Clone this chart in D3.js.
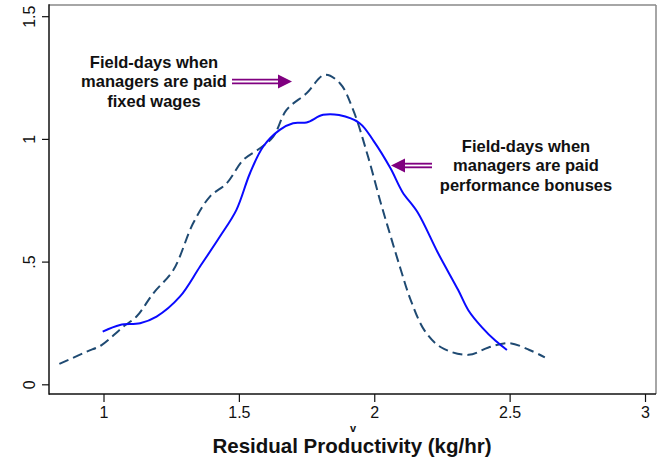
<!DOCTYPE html>
<html><head><meta charset="utf-8">
<script src="https://cdn.jsdelivr.net/npm/d3@7"></script>
<style>html,body{margin:0;padding:0;background:#fff;}svg{display:block;}</style>
</head><body>
<svg id="c" width="663" height="461"></svg>
<script>
// Kernel density: field-days when managers are paid fixed wages (dashed)
const xFixed = [0.837,0.938,0.993,1.073,1.122,1.184,1.258,1.331,1.393,1.455,1.516,1.578,1.627,1.676,1.750,1.817,1.873,1.922,1.977,2.023,2.060,2.098,2.135,2.186,2.248,2.348,2.422,2.498,2.573,2.630];
const yFixed = [0.083,0.133,0.160,0.235,0.276,0.371,0.466,0.656,0.765,0.819,0.914,0.962,1.009,1.118,1.186,1.261,1.227,1.118,0.928,0.743,0.605,0.467,0.342,0.219,0.150,0.120,0.150,0.168,0.140,0.110];
// Field-days when managers are paid performance bonuses (solid)
const xBonus = [0.997,1.061,1.135,1.196,1.282,1.356,1.430,1.491,1.541,1.590,1.651,1.700,1.750,1.811,1.870,1.946,1.998,2.060,2.104,2.160,2.235,2.310,2.348,2.398,2.448,2.490];
const yBonus = [0.215,0.242,0.249,0.276,0.357,0.479,0.602,0.711,0.860,0.969,1.037,1.064,1.067,1.098,1.097,1.064,0.991,0.880,0.784,0.701,0.536,0.384,0.301,0.232,0.177,0.140];
const xTicks = [1,1.5,2,2.5,3];
const xTickLabels = ["1","1.5","2","2.5","3"];
const yTicks = [0,0.5,1,1.5];
const yTickLabels = ["0",".5","1","1.5"];
const xTitle = "Residual Productivity (kg/hr)";
const noteFixed = ["Field-days when","managers are paid","fixed wages"];
const noteBonus = ["Field-days when","managers are paid","performance bonuses"];

const svg = d3.select("#c");
const L=49, R=656, T=5, B=394;
const x = d3.scaleLinear().domain([0.7987,3.0406]).range([L,R]);
const y = d3.scaleLinear().domain([-0.0395,1.5456]).range([B,T]);
const font = "'Liberation Sans', Arial, Helvetica, sans-serif";

// frame
svg.append("line").attr("x1",L).attr("x2",R).attr("y1",T).attr("y2",T).attr("stroke","#888").attr("stroke-width",1.5);
svg.append("line").attr("x1",R).attr("x2",R).attr("y1",T).attr("y2",B).attr("stroke","#888").attr("stroke-width",1.5);
svg.append("line").attr("x1",L).attr("x2",L).attr("y1",T-0.75).attr("y2",B+0.75).attr("stroke","#111").attr("stroke-width",1.5);
svg.append("line").attr("x1",L).attr("x2",R).attr("y1",B).attr("y2",B).attr("stroke","#111").attr("stroke-width",1.5);

// x axis
const gx = svg.append("g").attr("transform",`translate(0,${B})`)
  .call(d3.axisBottom(x).tickValues(xTicks).tickSize(8).tickPadding(5)
    .tickFormat((d,i)=>xTickLabels[i]));
gx.select(".domain").remove();
gx.selectAll("line").attr("stroke","#111").attr("stroke-width",1.2);
gx.selectAll("text").attr("font-family",font).attr("font-size",16).attr("fill","#111");

// y axis
const gy = svg.append("g").attr("transform",`translate(${L},0)`)
  .call(d3.axisLeft(y).tickValues(yTicks).tickSize(7).tickFormat((d,i)=>yTickLabels[i]));
gy.select(".domain").remove();
gy.selectAll("line").attr("stroke","#111").attr("stroke-width",1.2);
gy.selectAll("text").attr("font-family",font).attr("font-size",16).attr("fill","#111")
  .attr("x",null).attr("dy",null).attr("text-anchor","middle")
  .attr("transform","translate(-14,0) rotate(-90)");

// axis title
svg.append("text").attr("x",353).attr("y",432).attr("text-anchor","middle")
  .attr("font-family",font).attr("font-weight","bold").attr("font-size",11).attr("fill","#111").text("v");
svg.append("text").attr("x",352).attr("y",453).attr("text-anchor","middle")
  .attr("font-family",font).attr("font-weight","bold").attr("font-size",20.5).attr("fill","#111").text(xTitle);

// curves
const line = d3.line().x(d=>x(d[0])).y(d=>y(d[1])).curve(d3.curveCatmullRom.alpha(0.5));
svg.append("path").datum(xFixed.map((v,i)=>[v,yFixed[i]])).attr("d",line)
  .attr("fill","none").attr("stroke","#1f4a72").attr("stroke-width",2).attr("stroke-dasharray","10,5");
svg.append("path").datum(xBonus.map((v,i)=>[v,yBonus[i]])).attr("d",line)
  .attr("fill","none").attr("stroke","#0a0aff").attr("stroke-width",2);

// annotations
function note(lines,cx,y0){
  const t = svg.append("text").attr("font-family",font).attr("font-weight","bold")
    .attr("font-size",16.5).attr("fill","#111").attr("text-anchor","middle");
  lines.forEach((s,i)=>t.append("tspan").attr("x",cx).attr("y",y0+i*19.3).text(s));
}
note(noteFixed,154,68);
note(noteBonus,526,152);

function arrow(x0,x1,xh,yc){
  const purple="#800080";
  svg.append("line").attr("x1",x0).attr("x2",x1).attr("y1",yc).attr("y2",yc).attr("stroke",purple).attr("stroke-width",5.5);
  svg.append("line").attr("x1",x0).attr("x2",x1).attr("y1",yc).attr("y2",yc).attr("stroke","#fff").attr("stroke-width",1.8);
  svg.append("path").attr("d",`M${x1},${yc-7}L${xh},${yc}L${x1},${yc+7}Z`).attr("fill",purple);
}
arrow(232,278,292,81.5);
arrow(432,405,391,165.5);
</script>
</body></html>
